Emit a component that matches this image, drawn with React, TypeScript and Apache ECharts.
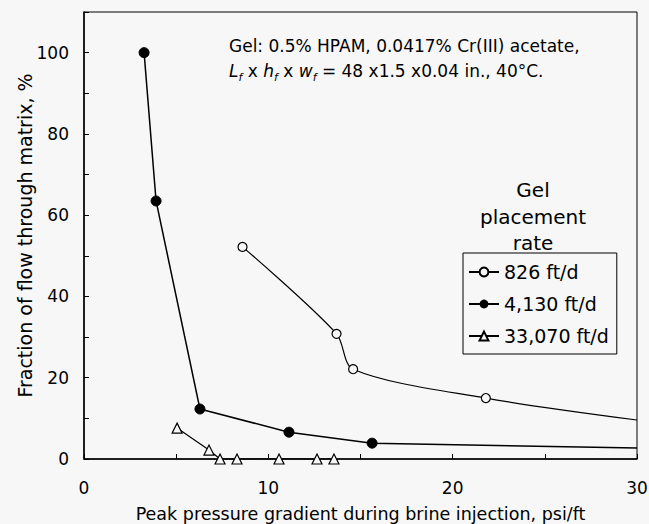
import React, { useEffect, useRef } from "react";
import * as echarts from "echarts";

// Data
const xTicks = [0, 10, 20, 30];
const yTicks = [0, 20, 40, 60, 80, 100];

const x826 = [8.6, 13.7, 14.6, 21.8];
const y826 = [52.2, 30.8, 22.1, 15.0];
const tail826 = [30, 9.6];

const x4130 = [3.26, 3.91, 6.29, 11.12, 15.63];
const y4130 = [100, 63.5, 12.3, 6.6, 3.9];
const tail4130 = [30, 2.7];

const x33070 = [5.05, 6.78, 7.38, 8.3, 10.58, 12.64, 13.56];
const y33070 = [7.6, 2.2, 0, 0, 0, 0, 0];

const seriesNames = ["826 ft/d", "4,130 ft/d", "33,070 ft/d"];

const BG = "#f7f7f7";
const FONT = "DejaVu Sans";

export default function App() {
  const ref = useRef<HTMLDivElement>(null);
  useEffect(() => {
    if (!ref.current) return;
    const chart = echarts.init(ref.current, null, { renderer: "svg" });
    const pts = (xs: number[], ys: number[]) => xs.map((x, i) => [x, ys[i]]);
    const tail = (t: number[]) => ({ value: t, symbol: "none" });
    chart.setOption({
      animation: false,
      backgroundColor: BG,
      textStyle: { fontFamily: FONT, color: "#000" },
      grid: {
        left: 84,
        right: 12,
        top: 12,
        bottom: 65,
        outerBoundsMode: "none",
        containLabel: false,
        show: true,
        borderColor: "#000",
        borderWidth: 1,
        backgroundColor: "transparent",
      },
      xAxis: {
        type: "value",
        min: 0,
        max: 30,
        interval: 5,
        name: "Peak pressure gradient during brine injection, psi/ft",
        nameLocation: "middle",
        nameGap: 46,
        nameMoveOverlap: false,
        nameTextStyle: { fontFamily: FONT, fontSize: 17.5, color: "#000" },
        axisLine: { lineStyle: { color: "#000", width: 1.5 } },
        axisTick: { inside: true, length: 5, lineStyle: { color: "#000" } },
        axisLabel: {
          margin: 20,
          fontFamily: FONT,
          fontSize: 17,
          color: "#000",
          formatter: (v: number) => (xTicks.includes(v) ? String(v) : ""),
        },
        splitLine: { show: false },
      },
      yAxis: {
        type: "value",
        min: 0,
        max: 110,
        interval: 10,
        name: "Fraction of flow through matrix, %",
        nameLocation: "middle",
        nameGap: 50,
        nameMoveOverlap: false,
        nameTextStyle: { fontFamily: FONT, fontSize: 19, color: "#000" },
        axisLine: { show: true, lineStyle: { color: "#000", width: 1.5 } },
        axisTick: { show: true, inside: true, length: 5, lineStyle: { color: "#000" } },
        axisLabel: {
          margin: 15,
          fontFamily: FONT,
          fontSize: 17,
          color: "#000",
          formatter: (v: number) => (yTicks.includes(v) ? String(v) : ""),
        },
        splitLine: { show: false },
      },
      legend: {
        orient: "vertical",
        left: 463,
        top: 253,
        data: seriesNames,
        itemWidth: 30,
        itemHeight: 11,
        itemGap: 10,
        padding: [8, 8, 7, 5],
        borderColor: "#000",
        borderWidth: 1,
        backgroundColor: BG,
        textStyle: { fontFamily: FONT, fontSize: 19, color: "#000", lineHeight: 22 },
      },
      graphic: [
        {
          type: "text",
          left: 229,
          top: 37,
          style: {
            text:
              "{n|Gel: 0.5% HPAM, 0.0417% Cr(III) acetate,}\n" +
              "{i|L}{s|f}{n| x }{i|h}{s|f}{n| x }{i|w}{s|f}{n| = 48 x1.5 x0.04 in., 40°C.}",
            fill: "#000",
            rich: {
              n: { fontFamily: FONT, fontSize: 17, fill: "#000", lineHeight: 25 },
              i: { fontFamily: FONT, fontSize: 17, fontStyle: "italic", fill: "#000", lineHeight: 25 },
              s: {
                fontFamily: FONT,
                fontSize: 11,
                fontStyle: "italic",
                fill: "#000",
                verticalAlign: "bottom",
                lineHeight: 25,
              },
            },
          },
        },
        {
          type: "text",
          x: 533,
          y: 177,
          style: {
            text: "Gel\nplacement\nrate",
            fontFamily: FONT,
            fontSize: 20,
            lineHeight: 26.5,
            fill: "#000",
            textAlign: "center",
          },
        },
      ],
      series: [
        {
          name: seriesNames[0],
          type: "line",
          smooth: 0.3,
          symbol: "circle",
          symbolSize: 9,
          data: [...pts(x826, y826), tail(tail826)],
          lineStyle: { color: "#000", width: 1.2 },
          itemStyle: { color: BG, borderColor: "#000", borderWidth: 1.2 },
        },
        {
          name: seriesNames[1],
          type: "line",
          smooth: false,
          symbol: "circle",
          symbolSize: 10,
          data: [...pts(x4130, y4130), tail(tail4130)],
          lineStyle: { color: "#000", width: 1.5 },
          itemStyle: { color: "#000", borderColor: "#000" },
        },
        {
          name: seriesNames[2],
          type: "line",
          symbol: "triangle",
          symbolSize: 10,
          data: pts(x33070, y33070),
          lineStyle: { color: "#000", width: 1.2 },
          itemStyle: { color: BG, borderColor: "#000", borderWidth: 1.2 },
        },
      ],
    });
    return () => chart.dispose();
  }, []);
  return (
    <div
      ref={ref}
      style={{ position: "fixed", left: 0, top: 0, width: 649, height: 524 }}
    />
  );
}
